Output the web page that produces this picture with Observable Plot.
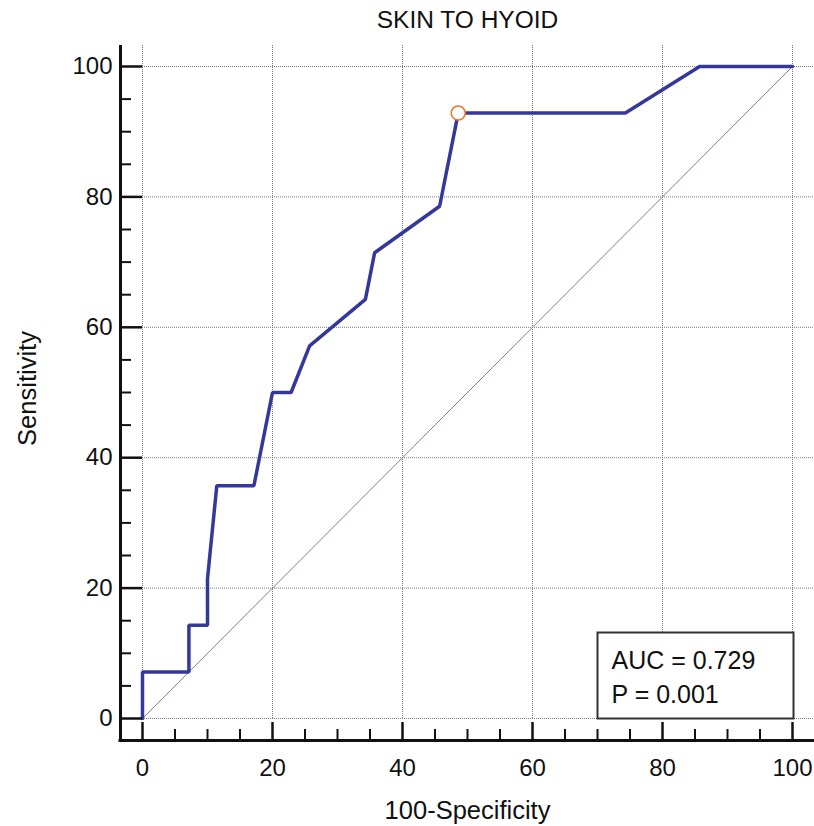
<!DOCTYPE html>
<html><head><meta charset="utf-8">
<script src="https://cdn.jsdelivr.net/npm/d3@7"></script>
<script src="https://cdn.jsdelivr.net/npm/@observablehq/plot@0.6"></script>
<style>body{margin:0;background:#fff;}</style>
</head><body><div id="chart"></div>
<script>
// ROC curve points (100-Specificity, Sensitivity)
const fpr = [0, 0, 7.14, 7.14, 10, 10, 11.43, 17.14, 20, 22.86, 25.71, 34.29, 35.71, 45.71, 48.57, 74.29, 85.71, 100];
const tpr = [0, 7.14, 7.14, 14.29, 14.29, 21.43, 35.71, 35.71, 50, 50, 57.14, 64.29, 71.43, 78.57, 92.86, 92.86, 100, 100];
// reference diagonal
const diagX = [0, 100];
const diagY = [0, 100];
// optimal cut-off point
const cutX = [48.57];
const cutY = [92.86];
// ticks
const majorTicks = [0, 20, 40, 60, 80, 100];
const minorTicks = [5, 10, 15, 25, 30, 35, 45, 50, 55, 65, 70, 75, 85, 90, 95];
// texts
const titleText = "SKIN TO HYOID";
const xLabel = "100-Specificity";
const yLabel = "Sensitivity";
const statLines = ["AUC = 0.729", "P = 0.001"];

const roc = fpr.map((x, i) => ({x, y: tpr[i]}));
const diag = diagX.map((x, i) => ({x, y: diagY[i]}));
const cut = cutX.map((x, i) => ({x, y: cutY[i]}));

const font = "'Liberation Sans', Arial, Helvetica, sans-serif";
const txt = {text: d => d, fill: "#111"};

const chart = Plot.plot({
  width: 814,
  height: 826,
  marginLeft: 142,
  marginRight: 22,
  marginTop: 66,
  marginBottom: 108,
  x: {domain: [0, 100]},
  y: {domain: [0, 100]},
  style: {fontFamily: font, fontSize: "24px", color: "#111", background: "white", overflow: "visible"},
  marks: [
    // grid
    Plot.ruleX(majorTicks, {x: d => d, insetTop: -21, stroke: "#7a7a7a", strokeWidth: 1, strokeDasharray: "1,1"}),
    Plot.ruleY(majorTicks, {y: d => d, insetRight: -22, stroke: "#7a7a7a", strokeWidth: 1, strokeDasharray: "1,1"}),
    // diagonal
    Plot.line(diag, {x: "x", y: "y", stroke: "#8c7c7c", strokeWidth: 1}),
    // ROC curve
    Plot.line(roc, {x: "x", y: "y", stroke: "#34389a", strokeWidth: 3.5, strokeLinejoin: "miter"}),
    // stats box
    Plot.frame({insetLeft: 455, insetTop: 566, insetRight: -1, insetBottom: 0, fill: "white", stroke: "#333", strokeWidth: 2}),
    Plot.text([statLines[0]], {...txt, fontSize: 25, frameAnchor: "top-left", textAnchor: "start", lineAnchor: "middle", dx: 469, dy: 594}),
    Plot.text([statLines[1]], {...txt, fontSize: 25, frameAnchor: "top-left", textAnchor: "start", lineAnchor: "middle", dx: 469, dy: 628}),
    // axes lines
    Plot.ruleX([0], {x: d => d, dx: -22, insetTop: -21, insetBottom: -23.5, stroke: "#111", strokeWidth: 3}),
    Plot.ruleY([0], {y: d => d, dy: 22, insetLeft: -23.5, insetRight: -22, stroke: "#111", strokeWidth: 3}),
    // y axis ticks
    Plot.axisY({ticks: majorTicks, tickSize: 21, tickPadding: 9, strokeWidth: 2.5, label: null, fontSize: 24}),
    Plot.axisY({ticks: minorTicks, tickSize: 10, dx: -11, strokeWidth: 2, label: null, tickFormat: () => ""}),
    // x axis ticks
    Plot.axisX({ticks: majorTicks, tickSize: 18, dy: 4, tickPadding: 18, strokeWidth: 2.5, label: null, fontSize: 24}),
    Plot.axisX({ticks: minorTicks, tickSize: 11, dy: 11, strokeWidth: 2, label: null, tickFormat: () => ""}),
    // cut-off marker
    Plot.dot(cut, {x: "x", y: "y", r: 7, stroke: "#e8782a", fill: "white", strokeWidth: 1.5}),
    // title and axis labels
    Plot.text([titleText], {...txt, fontSize: 24.5, frameAnchor: "top", textAnchor: "middle", lineAnchor: "middle", dy: -46}),
    Plot.text([xLabel], {...txt, fontSize: 25.5, frameAnchor: "bottom", textAnchor: "middle", lineAnchor: "middle", dy: 92}),
    Plot.text([yLabel], {...txt, fontSize: 25.5, frameAnchor: "left", textAnchor: "middle", lineAnchor: "middle", rotate: -90, dx: -115, dy: -4})
  ]
});
document.getElementById("chart").appendChild(chart);
</script>
</body></html>
